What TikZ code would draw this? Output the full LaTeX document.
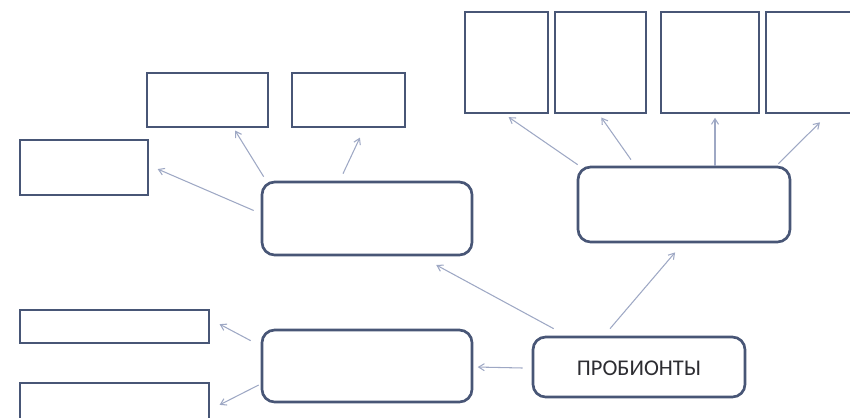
\documentclass[tikz,border=0pt]{standalone}
\usepackage{fontspec}
\setmainfont{Carlito}
\usetikzlibrary{arrows.meta,fit,calc}
\definecolor{boxline}{RGB}{72,86,118}
\definecolor{arrowline}{RGB}{158,168,196}
\definecolor{textgray}{RGB}{45,45,50}
\tikzset{
  plainbox/.style={draw=boxline, line width=1.9pt, fill=white, inner sep=0pt},
  roundbox/.style={plainbox, rounded corners=9pt},
  link/.style={draw=arrowline, line width=0.75pt, -{Straight Barb[length=4pt,width=5pt]}, shorten >=1pt}
}
\begin{document}
\begin{tikzpicture}[x=0.025cm, y=-0.025cm]
\useasboundingbox (0,0) rectangle (850,417);

% upper right row of tall boxes
\node[plainbox, fit={(465,12) (548,113)}] (A) {};
\node[plainbox, fit={(555,12) (646,113)}] (B) {};
\node[plainbox, fit={(661,12) (759,113)}] (C) {};
\node[plainbox, fit={(766,12) (858,113)}] (D) {};
\node[roundbox, fit={(578,167) (790,242)}] (R) {};

% upper left group
\node[plainbox, fit={(147,73) (268,127)}] (E) {};
\node[plainbox, fit={(292,73) (405,127)}] (F) {};
\node[plainbox, fit={(20,140) (148,195)}] (G) {};
\node[roundbox, fit={(262,182) (472,255)}] (M) {};

% lower left group
\node[plainbox, fit={(20,310) (209,343)}] (H) {};
\node[plainbox, fit={(20,383) (209,422)}] (I) {};
\node[roundbox, fit={(262,330) (472,402)}] (L) {};

% root
\node[roundbox, fit={(533,337) (745,397)}] (P) {};
\node[text=textgray, font=\fontsize{16}{18}\selectfont] at ($(P.center)+(0,1)$) {ПРОБИОНТЫ};

% connectors from the root
\draw[link] ($(P.west)+(-9,1)$) -- ($(L.east)+(3,1)$);
\draw[link] ($(P.north west)+(22,-7)$) -- ($(M.south)+(68,8)$);
\draw[link] ($(P.north)+(-29,-7)$) -- ($(R.south)+(-8,8)$);

% connectors from the right box
\draw[link] ($(R.north west)+(1,-1)$) -- ($(A.south)+(1,2)$);
\draw[link] ($(R.north)+(-53,-6)$) -- ($(B.south)+(0,2)$);
\draw[link] ($(R.north)+(31,0)$) -- ($(C.south)+(5,2)$);
\draw[link] ($(R.north east)+(-13,-2)$) -- ($(D.south)+(9,7)$);

% connectors from the upper left box
\draw[link] ($(M.north west)+(3,-4)$) -- ($(E.south east)+(-35,1)$);
\draw[link] ($(M.north)+(-24,-7)$) -- ($(F.south)+(12,8)$);
\draw[link] ($(M.west)+(-7,-8)$) -- ($(G.east)+(7,1)$);

% connectors from the lower left box
\draw[link] ($(L.north west)+(-10,12)$) -- ($(H.east)+(8,-3)$);
\draw[link] ($(L.west)+(-2,19)$) -- ($(I.east)+(8,3)$);
\end{tikzpicture}
\end{document}
